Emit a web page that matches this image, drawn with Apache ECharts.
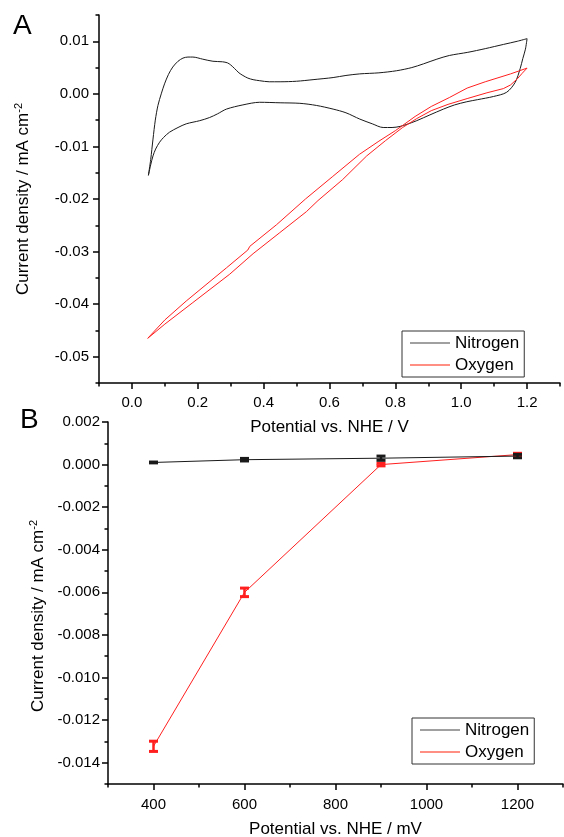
<!DOCTYPE html>
<html>
<head>
<meta charset="utf-8">
<script src="https://cdn.jsdelivr.net/npm/echarts@6/dist/echarts.min.js"></script>
<style>
html,body{margin:0;padding:0;background:#fff;}
#chart{width:564px;height:837px;}
</style>
</head>
<body>
<div id="chart"></div>
<script>
// ---------- Panel A: cyclic voltammograms (potential V, current density mA cm-2)
const nitrogenCV = [
  [0.050,-0.0155],[0.057,-0.0125],[0.064,-0.0086],[0.071,-0.0050],[0.079,-0.0022],[0.089,0.0000],
  [0.099,0.0019],[0.111,0.0037],[0.124,0.0051],[0.140,0.0062],[0.155,0.0068],[0.170,0.0070],
  [0.185,0.0070],[0.215,0.0066],[0.246,0.0062],[0.275,0.0061],[0.290,0.0059],[0.300,0.0055],
  [0.312,0.0048],[0.325,0.0040],[0.337,0.0035],[0.352,0.0030],[0.368,0.0027],[0.388,0.0025],
  [0.417,0.0023],[0.450,0.0023],[0.500,0.0024],[0.550,0.0027],[0.611,0.0031],[0.650,0.0035],
  [0.692,0.0038],[0.750,0.0040],[0.804,0.0044],[0.850,0.0050],[0.885,0.0057],[0.926,0.0066],
  [0.964,0.0073],[1.020,0.0079],[1.073,0.0086],[1.128,0.0094],[1.170,0.0100],[1.200,0.0105],
  [1.195,0.0085],[1.187,0.0067],[1.179,0.0048],[1.164,0.0022],[1.138,0.0003],[1.098,-0.0005],
  [1.050,-0.0011],[1.017,-0.0015],[0.980,-0.0021],[0.946,-0.0029],[0.905,-0.0040],[0.865,-0.0051],
  [0.835,-0.0058],[0.814,-0.0062],[0.790,-0.0064],[0.763,-0.0064],[0.730,-0.0057],[0.692,-0.0048],
  [0.650,-0.0036],[0.611,-0.0029],[0.560,-0.0022],[0.510,-0.0018],[0.450,-0.0017],[0.388,-0.0016],
  [0.337,-0.0021],[0.287,-0.0029],[0.260,-0.0038],[0.236,-0.0045],[0.206,-0.0051],[0.165,-0.0057],
  [0.140,-0.0064],[0.114,-0.0073],[0.096,-0.0083],[0.084,-0.0092],[0.072,-0.0105],[0.064,-0.0118],
  [0.057,-0.0135],[0.050,-0.0155]
];
const oxygenCV = [
  [0.048,-0.0465],[0.100,-0.0438],[0.185,-0.0397],[0.297,-0.0343],[0.368,-0.0304],[0.449,-0.0264],
  [0.530,-0.0224],[0.565,-0.0203],[0.640,-0.0163],[0.713,-0.0118],[0.770,-0.0089],[0.822,-0.0064],
  [0.865,-0.0047],[0.909,-0.0032],[0.960,-0.0020],[1.018,-0.0009],[1.078,0.0002],[1.128,0.0010],
  [1.150,0.0017],[1.171,0.0029],[1.185,0.0039],[1.200,0.0049],
  [1.150,0.0038],[1.073,0.0023],[1.018,0.0011],[0.964,-0.0007],[0.909,-0.0024],[0.860,-0.0043],
  [0.800,-0.0070],[0.750,-0.0090],[0.691,-0.0115],[0.610,-0.0157],[0.527,-0.0200],[0.439,-0.0249],
  [0.358,-0.0290],[0.352,-0.0297],[0.287,-0.0331],[0.165,-0.0394],[0.100,-0.0430],[0.048,-0.0465]
];
// ---------- Panel B: steady-state current vs potential (mV)
const bPotential = [400, 600, 900, 1200];
const nitrogenB = [0.00010, 0.00023, 0.00030, 0.00040];
const nitrogenErr = [0.00002, 0.00006, 0.00010, 0.00008];
const oxygenB = [-0.01323, -0.00600, 0.00000, 0.00047];
const oxygenErr = [0.00024, 0.00020, 0.00006, 0.00006];

// ---------- tick labels
const aXTicks = [0, 0.2, 0.4, 0.6, 0.8, 1.0, 1.2];
const aXMinor = [-0.1, 0.1, 0.3, 0.5, 0.7, 0.9, 1.1, 1.3];
const aYTicks = [-0.05, -0.04, -0.03, -0.02, -0.01, 0, 0.01];
const aYMinor = [-0.055, -0.045, -0.035, -0.025, -0.015, -0.005, 0.005, 0.015];
const bXTicks = [400, 600, 800, 1000, 1200];
const bXMinor = [300, 500, 700, 900, 1100, 1300];
const bYTicks = [-0.014, -0.012, -0.010, -0.008, -0.006, -0.004, -0.002, 0, 0.002];
const bYMinor = [-0.015, -0.013, -0.011, -0.009, -0.007, -0.005, -0.003, -0.001, 0.001];

const legendNames = ['Nitrogen', 'Oxygen'];
const FONT = '"Liberation Sans", Arial, sans-serif';
const BLACK = '#1a1a1a';
const RED = '#ff1f1f';
const LEGEND_COLORS = ['#808080', '#ff6a5a'];

const yName = '{a|Current density / mA cm}{s|-2}';
const yNameStyle = {
  rich: {
    a: {fontSize: 17, fontFamily: FONT, color: '#000', lineHeight: 20},
    s: {fontSize: 11, fontFamily: FONT, color: '#000', verticalAlign: 'top', lineHeight: 12}
  }
};

function majorAxis(common) {
  return Object.assign({
    type: 'value',
    splitLine: {show: false},
    axisLine: {show: true, onZero: false, lineStyle: {color: '#000', width: 1.5}},
    axisTick: {show: true, length: 6, lineStyle: {color: '#000', width: 1.5}},
    axisLabel: {color: '#000', fontSize: 15, fontFamily: FONT},
    nameTextStyle: {color: '#000', fontSize: 17, fontFamily: FONT}
  }, common);
}
function minorAxis(common, values) {
  return Object.assign({
    type: 'value',
    splitLine: {show: false},
    axisLine: {show: false, onZero: false},
    axisTick: {show: true, length: 3.5, customValues: values, lineStyle: {color: '#000', width: 1.5}},
    axisLabel: {show: false}
  }, common);
}

function errRender(color) {
  return function (params, api) {
    const x = api.value(0), y = api.value(1), e = api.value(2);
    const top = api.coord([x, y + e]);
    const bot = api.coord([x, y - e]);
    const hw = 4.5;
    return {
      type: 'group',
      children: [
        {type: 'line', shape: {x1: top[0], y1: top[1], x2: bot[0], y2: bot[1]}, style: {stroke: color, lineWidth: 2.5}},
        {type: 'line', shape: {x1: top[0] - hw, y1: top[1], x2: top[0] + hw, y2: top[1]}, style: {stroke: color, lineWidth: 3}},
        {type: 'line', shape: {x1: bot[0] - hw, y1: bot[1], x2: bot[0] + hw, y2: bot[1]}, style: {stroke: color, lineWidth: 3}}
      ]
    };
  };
}

const legendCommon = {
  orient: 'vertical',
  data: legendNames.map((n, i) => ({name: n, icon: 'rect', itemStyle: {color: LEGEND_COLORS[i]}})),
  itemWidth: 40,
  itemHeight: 1.3,
  itemGap: 4,
  padding: [3, 5, 3, 8],
  borderColor: '#333',
  borderWidth: 1,
  borderRadius: 0,
  backgroundColor: '#fff',
  selectedMode: false,
  textStyle: {fontSize: 17, fontFamily: FONT, color: '#000', lineHeight: 18}
};

const option = {
  animation: false,
  backgroundColor: '#fff',
  textStyle: {fontFamily: FONT},
  graphic: [
    {type: 'text', left: 13, top: 12, style: {text: 'A', fontSize: 28, fontFamily: FONT, fill: '#000'}},
    {type: 'text', left: 20, top: 406, style: {text: 'B', fontSize: 28, fontFamily: FONT, fill: '#000'}}
  ],
  legend: [
    Object.assign({left: 402, top: 331}, legendCommon),
    Object.assign({left: 412, top: 718}, legendCommon)
  ],
  grid: [
    {left: 99, top: 15, width: 461, height: 368, outerBoundsMode: 'none', containLabel: false},
    {left: 108, top: 422, width: 455, height: 362, outerBoundsMode: 'none', containLabel: false}
  ],
  xAxis: [
    majorAxis({
      gridIndex: 0, position: 'bottom', min: -0.1, max: 1.3,
      name: 'Potential vs. NHE / V', nameLocation: 'middle', nameGap: 36,
      axisTick: {show: true, length: 6, customValues: aXTicks, lineStyle: {color: '#000', width: 1.5}},
      axisLabel: {color: '#000', fontSize: 15, fontFamily: FONT, margin: 12, customValues: aXTicks,
        formatter: v => v.toFixed(1)}
    }),
    minorAxis({gridIndex: 0, position: 'bottom', min: -0.1, max: 1.3}, aXMinor),
    majorAxis({
      gridIndex: 1, position: 'bottom', min: 300, max: 1300,
      name: 'Potential vs. NHE / mV', nameLocation: 'middle', nameGap: 37,
      axisTick: {show: true, length: 6, customValues: bXTicks, lineStyle: {color: '#000', width: 1.5}},
      axisLabel: {color: '#000', fontSize: 15, fontFamily: FONT, margin: 13, customValues: bXTicks,
        formatter: v => String(Math.round(v))}
    }),
    minorAxis({gridIndex: 1, position: 'bottom', min: 300, max: 1300}, bXMinor)
  ],
  yAxis: [
    majorAxis({
      gridIndex: 0, position: 'left', min: -0.055, max: 0.015,
      name: yName, nameLocation: 'middle', nameGap: 66, nameTextStyle: yNameStyle,
      axisTick: {show: true, length: 6, customValues: aYTicks, lineStyle: {color: '#000', width: 1.5}},
      axisLabel: {color: '#000', fontSize: 15, fontFamily: FONT, margin: 10, customValues: aYTicks,
        formatter: v => v.toFixed(2)}
    }),
    minorAxis({gridIndex: 0, position: 'left', min: -0.055, max: 0.015}, aYMinor),
    majorAxis({
      gridIndex: 1, position: 'left', min: -0.015, max: 0.002,
      name: yName, nameLocation: 'middle', nameGap: 55,
      nameTextStyle: Object.assign({padding: [0, 26, 0, 0]}, yNameStyle),
      axisTick: {show: true, length: 6, customValues: bYTicks, lineStyle: {color: '#000', width: 1.5}},
      axisLabel: {color: '#000', fontSize: 15, fontFamily: FONT, margin: 8, customValues: bYTicks,
        formatter: v => v.toFixed(3)}
    }),
    minorAxis({gridIndex: 1, position: 'left', min: -0.015, max: 0.002}, bYMinor)
  ],
  series: [
    {name: 'Nitrogen', type: 'line', xAxisIndex: 0, yAxisIndex: 0, data: nitrogenCV,
      symbol: 'none', smooth: 0.3, lineStyle: {color: BLACK, width: 1}, itemStyle: {color: BLACK}, z: 2},
    {name: 'Oxygen', type: 'line', xAxisIndex: 0, yAxisIndex: 0, data: oxygenCV,
      symbol: 'none', smooth: false, lineStyle: {color: RED, width: 1}, itemStyle: {color: RED}, z: 3},
    {name: 'Oxygen', type: 'line', xAxisIndex: 2, yAxisIndex: 2,
      data: bPotential.map((x, i) => [x, oxygenB[i]]),
      symbol: 'none', lineStyle: {color: RED, width: 1}, itemStyle: {color: RED}, z: 2},
    {name: 'Nitrogen', type: 'line', xAxisIndex: 2, yAxisIndex: 2,
      data: bPotential.map((x, i) => [x, nitrogenB[i]]),
      symbol: 'none', lineStyle: {color: BLACK, width: 1}, itemStyle: {color: BLACK}, z: 3},
    {name: 'Oxygen error', type: 'custom', xAxisIndex: 2, yAxisIndex: 2,
      data: bPotential.map((x, i) => [x, oxygenB[i], oxygenErr[i]]),
      encode: {x: 0, y: 1}, renderItem: errRender(RED), z: 4},
    {name: 'Nitrogen error', type: 'custom', xAxisIndex: 2, yAxisIndex: 2,
      data: bPotential.map((x, i) => [x, nitrogenB[i], nitrogenErr[i]]),
      encode: {x: 0, y: 1}, renderItem: errRender(BLACK), z: 5}
  ]
};

const chart = echarts.init(document.getElementById('chart'), null, {renderer: 'canvas'});
chart.setOption(option);
</script>
</body>
</html>
